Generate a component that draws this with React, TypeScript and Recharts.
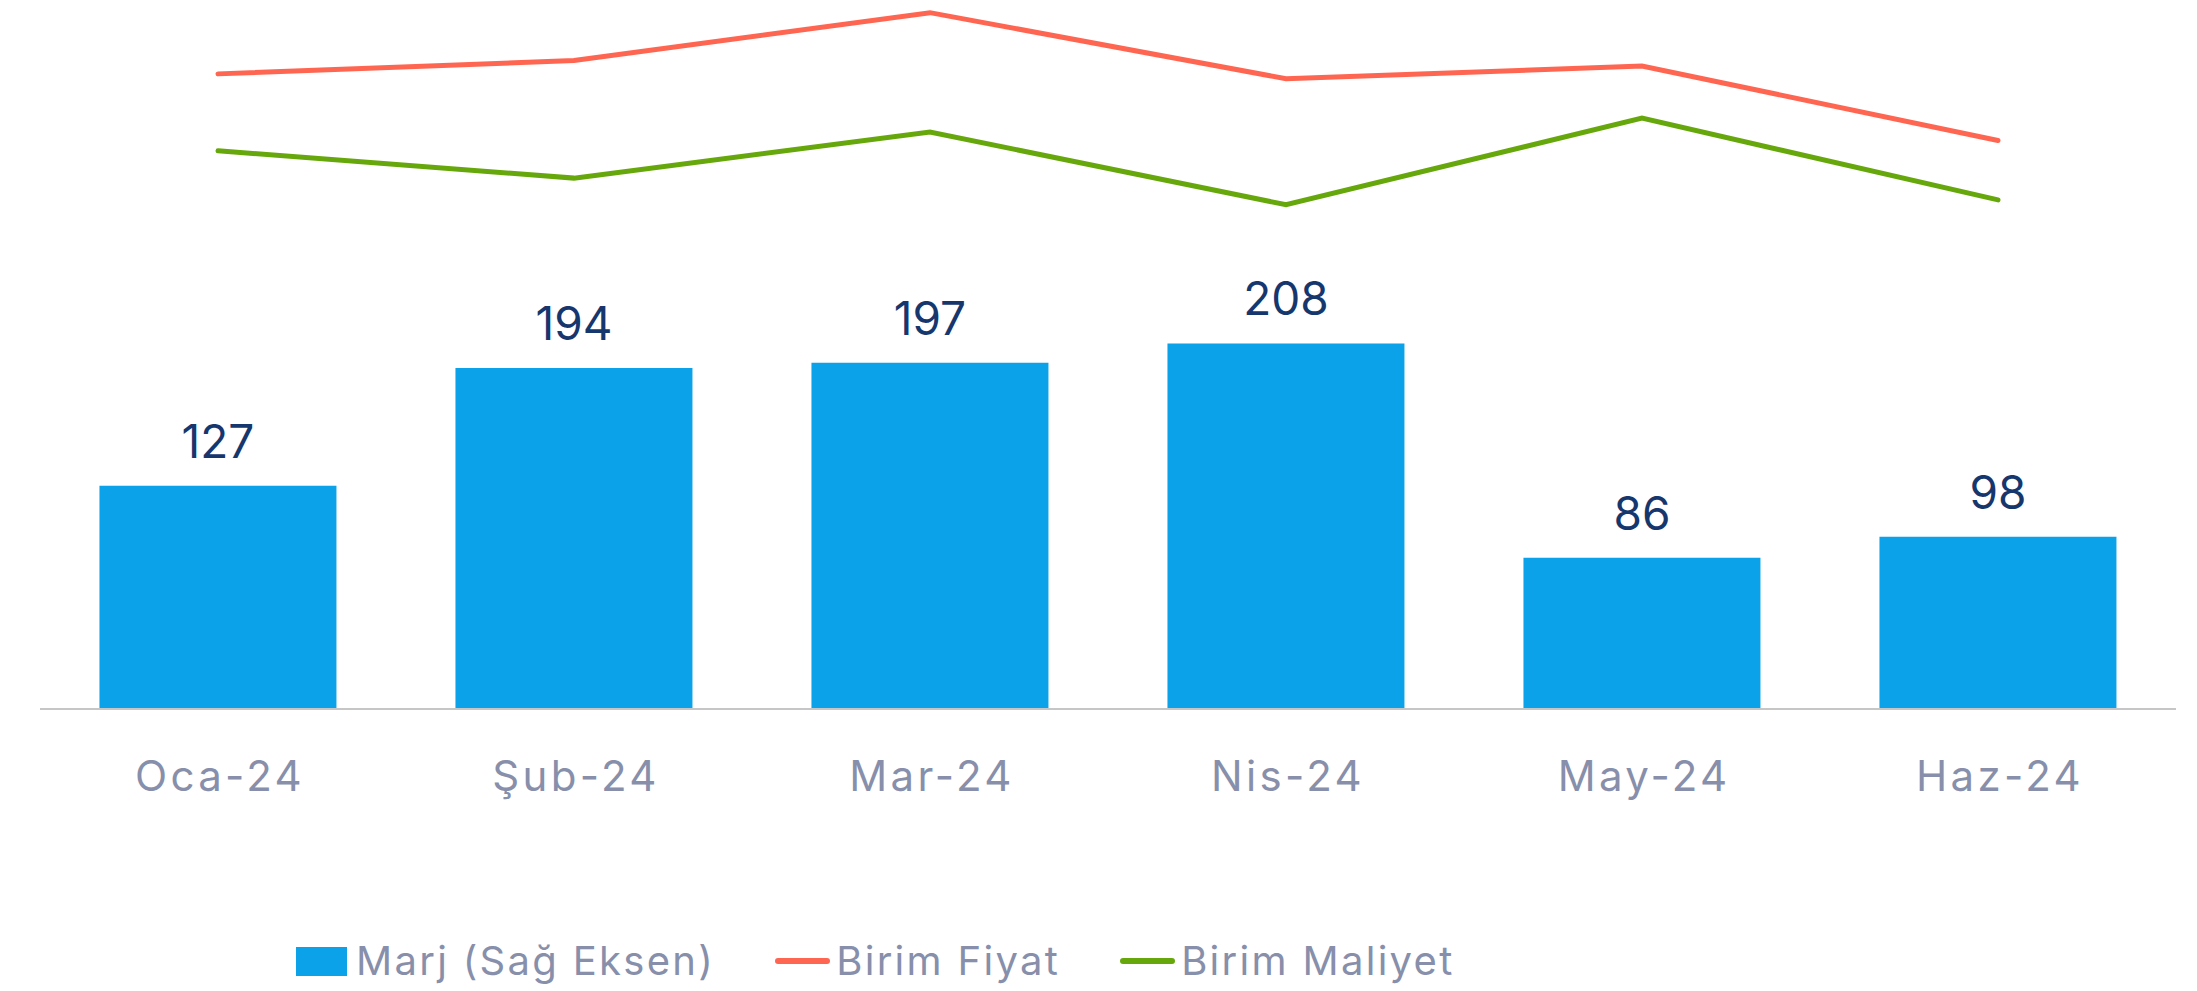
import { Bar, ComposedChart, LabelList, Legend, Line, XAxis, YAxis } from 'recharts';

const months = ['Oca-24', 'Şub-24', 'Mar-24', 'Nis-24', 'May-24', 'Haz-24'];
const marj = [127, 194, 197, 208, 86, 98];
const birimFiyat = [1048, 1070, 1149, 1040, 1061, 938];
const birimMaliyet = [921, 876, 952, 832, 975, 840];

const data = months.map((month, i) => ({
  month,
  marj: marj[i],
  fiyat: birimFiyat[i],
  maliyet: birimMaliyet[i],
}));

const FONT = 'Inter, "Noto Sans", sans-serif';
const TEXT_GREY = '#878FAB';

function MonthTick({ x, y, payload }: any) {
  return (
    <text
      x={x + 2}
      y={y + 80}
      textAnchor="middle"
      fill={TEXT_GREY}
      fontSize={42}
      fontFamily={FONT}
      letterSpacing={3.3}
    >
      {payload.value}
    </text>
  );
}

function ChartLegend() {
  const item = { display: 'flex', alignItems: 'center' } as const;
  return (
    <div
      style={{
        display: 'flex',
        alignItems: 'center',
        gap: 60,
        fontFamily: FONT,
        fontSize: 40,
        lineHeight: '40px',
        letterSpacing: 2.3,
        color: TEXT_GREY,
        whiteSpace: 'nowrap',
      }}
    >
      <div style={item}>
        <span style={{ width: 51, height: 29, background: '#0BA2E9', marginRight: 9 }} />
        Marj (Sağ Eksen)
      </div>
      <div style={item}>
        <span style={{ width: 55, height: 6, borderRadius: 3, background: '#FF6652', marginRight: 6 }} />
        Birim Fiyat
      </div>
      <div style={item}>
        <span style={{ width: 55, height: 6, borderRadius: 3, background: '#66A80C', marginRight: 6 }} />
        Birim Maliyet
      </div>
    </div>
  );
}

export default function App() {
  return (
    <div style={{ width: 2197, height: 991, background: '#fff' }}>
      <style>{'body{margin:0}'}</style>
      <ComposedChart
        width={2197}
        height={991}
        data={data}
        margin={{ top: 6, right: 21, bottom: 0, left: 40 }}
        barCategoryGap="16.7%"
      >
        <XAxis
          dataKey="month"
          height={282}
          tickLine={false}
          tickSize={0}
          axisLine={{ stroke: '#C6C6C6', strokeWidth: 2 }}
          tick={<MonthTick />}
          interval={0}
        />
        <YAxis yAxisId="marj" orientation="right" hide domain={[0, 400]} />
        <YAxis yAxisId="birim" hide domain={[0, 1160]} />
        <Bar yAxisId="marj" dataKey="marj" name="Marj (Sağ Eksen)" fill="#0BA2E9" isAnimationActive={false}>
          <LabelList
            dataKey="marj"
            position="top"
            offset={28}
            fill="#16376E"
            fontSize={46}
            fontFamily={FONT}
          />
        </Bar>
        <Line
          yAxisId="birim"
          dataKey="fiyat"
          name="Birim Fiyat"
          stroke="#FF6652"
          strokeWidth={5}
          strokeLinecap="round"
          dot={false}
          type="linear"
          isAnimationActive={false}
        />
        <Line
          yAxisId="birim"
          dataKey="maliyet"
          name="Birim Maliyet"
          stroke="#66A80C"
          strokeWidth={5}
          strokeLinecap="round"
          dot={false}
          type="linear"
          isAnimationActive={false}
        />
        <Legend
          layout="horizontal"
          verticalAlign="middle"
          align="center"
          content={<ChartLegend />}
          wrapperStyle={{ top: 941, left: 296, width: 'auto' }}
        />
      </ComposedChart>
    </div>
  );
}
